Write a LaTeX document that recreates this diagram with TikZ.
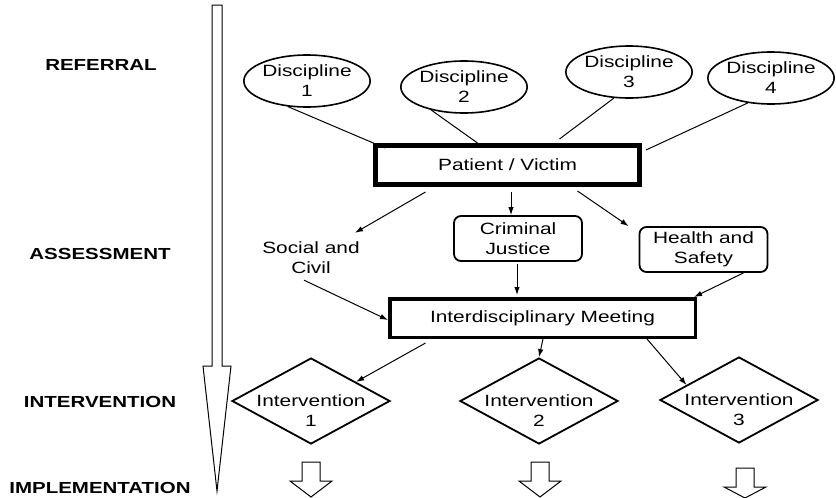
\documentclass[tikz,border=0pt]{standalone}
\usepackage{fontspec}
\setmainfont{Liberation Sans}[FakeStretch=1.28]
\usetikzlibrary{shapes.geometric,arrows.meta}

\begin{document}
\begin{tikzpicture}[
    x=1pt, y=-1pt,
    every node/.style={font=\fontsize{16.3}{20}\selectfont, align=center},
    disc/.style={ellipse, draw, line width=1.6pt, minimum width=122, minimum height=52, inner sep=0pt},
    heavybox/.style={draw, line width=#1, inner sep=0pt},
    softbox/.style={draw, line width=1.8pt, rounded corners=7pt, minimum width=128, minimum height=45, inner sep=0pt},
    interv/.style={diamond, draw, line width=1.8pt, minimum width=158, minimum height=86, inner sep=0pt,
        label={[yshift=-10pt]center:#1}},
    stage/.style={font=\fontsize{16}{20}\selectfont\bfseries},
    link/.style={line width=1pt},
    flow/.style={line width=1pt, -{Latex[length=8pt,width=5.5pt]}},
    hollow/.style={draw, line width=1pt, fill=white}
]
\useasboundingbox (0,0) rectangle (836,498);

% ── Time line on the left ────────────────────────────────────────────────────
\draw[hollow] (212,5) -- (222,5) -- (222,366) -- (231,366) -- (217,491)
    -- (203,366) -- (212,366) -- cycle;

\node[stage] (referral)   at (101,65)  {REFERRAL};
\node[stage] (assessment) at (100,254) {ASSESSMENT};
\node[stage] (intervene)  at (100,402) {INTERVENTION};
\node[stage] (implement)  at (100,488) {IMPLEMENTATION};

% ── Referral: disciplines and the patient ───────────────────────────────────
\node[disc] (d1) at (307,81) {Discipline\\1};
\node[disc] (d2) at (464,87) {Discipline\\2};
\node[disc] (d3) at (629,72) {Discipline\\3};
\node[disc] (d4) at (771,78) {Discipline\\4};

\node[heavybox=5pt, minimum width=264, minimum height=39] (pv) at (507.5,165) {Patient / Victim};

\draw[link] (d1.233) -- ([xshift=12pt,yshift=-5pt]pv.north west);
\draw[link] (d2.215) -- ([xshift=-30pt]pv.north);
\draw[link] (d3.240) -- ([xshift=52pt,yshift=4pt]pv.north);
\draw[link] (d4.227) -- ([xshift=4pt,yshift=-7pt]pv.north east);

% ── Assessment ───────────────────────────────────────────────────────────────
\node[inner sep=2pt] (sc) at (311,258) {Social and\\Civil};
\node[softbox] (cj) at (518,238.5) {Criminal\\Justice};
\node[softbox] (hs) at (703.5,249.5) {Health and\\Safety};

\node[heavybox=3.5pt, minimum width=305.5, minimum height=38.5] (im) at (542.5,318) {Interdisciplinary Meeting};

\draw[flow] ([xshift=-82pt,yshift=-5pt]pv.south) -- ([xshift=44pt,yshift=7pt]sc.north);
\draw[flow] ([xshift=3.5pt,yshift=-5pt]pv.south) -- ([xshift=-7pt]cj.north);
\draw[flow] ([xshift=70pt,yshift=-4pt]pv.south) -- ([xshift=-10pt]hs.north west);

\draw[flow] ([xshift=-7pt,yshift=-4pt]sc.south) -- ([yshift=-2pt]im.west);
\draw[flow] ([xshift=-1pt,yshift=-2pt]cj.south) -- ([xshift=-25.5pt,yshift=2pt]im.north);
\draw[flow] ([xshift=40pt]hs.south) -- ([xshift=-3pt]im.north east);

% ── Intervention ─────────────────────────────────────────────────────────────
\node[interv={Intervention\\1}] (iv1) at (311,401) {};
\node[interv={Intervention\\2}] (iv2) at (539,401) {};
\node[interv={Intervention\\3}] (iv3) at (739,400) {};

\draw[flow] ([xshift=-117pt,yshift=-4pt]im.south) -- (iv1.23);
\draw[flow] ([xshift=0.5pt]im.south) -- (iv2.north);
\draw[flow] ([xshift=104.5pt]im.south) -- (iv3.164);

% ── Implementation arrows ────────────────────────────────────────────────────
\foreach \ax/\ay/\tip in {311/462/497, 540/462/497, 745/468/498} {
    \draw[hollow] (\ax-9,\ay) -- (\ax+9,\ay) -- (\ax+9,\ay+19) -- (\ax+21,\ay+19)
        -- (\ax,\tip) -- (\ax-21,\ay+19) -- (\ax-9,\ay+19) -- cycle;
}

\end{tikzpicture}
\end{document}
